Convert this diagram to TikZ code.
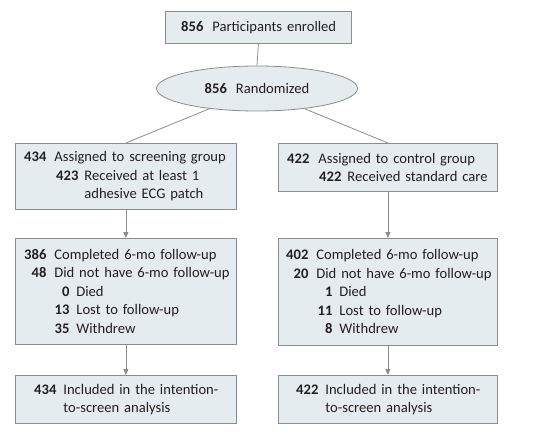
\documentclass[tikz,border=0pt]{standalone}
\usepackage{fontspec}
\setmainfont{Carlito}
\usetikzlibrary{shapes.geometric,arrows.meta}
\definecolor{boxfill}{HTML}{E5ECEF}
\definecolor{boxline}{HTML}{8C8C8C}
\definecolor{txt}{HTML}{231F20}
\newcommand\rw[3]{\makebox[#1][r]{\textbf{#3}\hspace{#2}}}
\begin{document}
\begin{tikzpicture}[x=1pt,y=-1pt,
  font=\fontsize{14.6}{18.5}\selectfont, text=txt,
  box/.style={draw=boxline, line width=0.8pt, fill=boxfill, rectangle, inner sep=0pt,
    anchor=north west, align=left},
  conn/.style={draw=boxline, line width=0.8pt},
  arr/.style={conn, -{Triangle[width=5pt,length=6pt]}}]
\useasboundingbox (0,0) rectangle (540,434);
% top
\node[box, minimum width=186, minimum height=32, text width=186] (enr) at (165,11)
  {\rw{47pt}{9pt}{856}Participants enrolled};
\node[draw=boxline, line width=0.8pt, fill=boxfill, ellipse, minimum width=201, minimum height=45, inner sep=0pt]
  (rnd) at (257,88.5) {\textbf{856}\hspace{9pt}Randomized};
% row 2
\node[box, minimum width=221, minimum height=66, text width=221] (asl) at (15,143)
  {\rw{39pt}{8pt}{434}Assigned to screening group\\
   \rw{69pt}{6pt}{423}Received at least 1\\
   \hspace*{69pt}adhesive ECG patch};
\node[box, minimum width=219, minimum height=48, text width=219] (asr) at (278,143)
  {\rw{40pt}{9pt}{422}Assigned to control group\\
   \rw{69pt}{6pt}{422}Received standard care};
% row 3
\node[box, minimum width=221, minimum height=106, text width=221] (ful) at (15,238)
  {\rw{39pt}{8pt}{386}Completed 6-mo follow-up\\
   \rw{39pt}{8pt}{48}Did not have 6-mo follow-up\\
   \rw{61pt}{7pt}{0}Died\\
   \rw{61pt}{7pt}{13}Lost to follow-up\\
   \rw{61pt}{7pt}{35}Withdrew};
\node[box, minimum width=219, minimum height=107, text width=219] (fur) at (278,238)
  {\rw{38pt}{8pt}{402}Completed 6-mo follow-up\\
   \rw{38pt}{8pt}{20}Did not have 6-mo follow-up\\
   \rw{61pt}{7pt}{1}Died\\
   \rw{61pt}{7pt}{11}Lost to follow-up\\
   \rw{61pt}{7pt}{8}Withdrew};
% row 4
\node[box, minimum width=221, minimum height=48, text width=221] (anl) at (15,375)
  {\rw{48pt}{7pt}{434}Included in the intention-\\
   \hspace*{48pt}to-screen analysis};
\node[box, minimum width=219, minimum height=48, text width=219] (anr) at (278,375)
  {\rw{47pt}{7pt}{422}Included in the intention-\\
   \hspace*{47pt}to-screen analysis};
% connectors
\draw[conn] (enr.south) -- (rnd.north);
\draw[conn] (rnd.203) -- (asl.north);
\draw[conn] (rnd.337) -- (asr.north);
\draw[arr] (asl.south) -- (ful.north);
\draw[arr] (asr.south) -- (fur.north);
\draw[arr] (ful.south) -- (anl.north);
\draw[arr] (fur.south) -- (anr.north);
\end{tikzpicture}
\end{document}
